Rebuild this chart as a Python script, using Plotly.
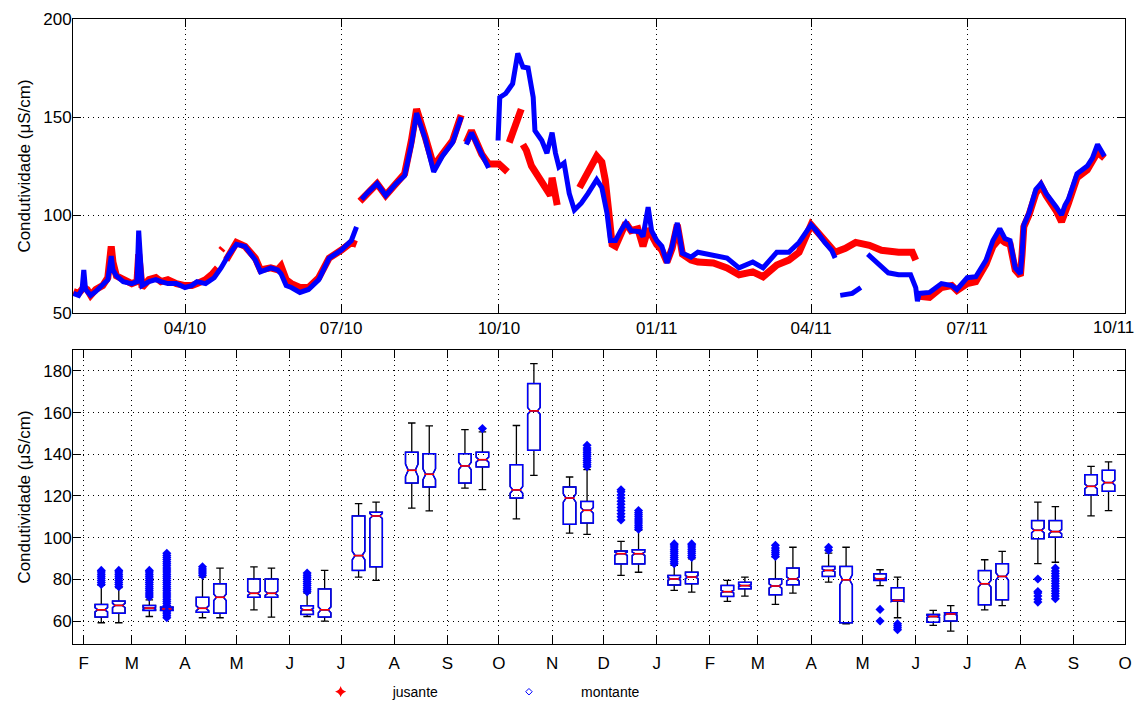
import pandas as pd
import plotly.graph_objects as go

# ---------------- top panel: time series ----------------
jus_dates = ["2010-01-26", "2010-01-29", "2010-02-01", "2010-02-03", "2010-02-05", "2010-02-08",
             "2010-02-12", "2010-02-15", "2010-02-17", "2010-02-18", "2010-02-20", "2010-02-24",
             "2010-03-01", "2010-03-04", "2010-03-05", "2010-03-07", "2010-03-11", "2010-03-15",
             "2010-03-18", "2010-03-22", "2010-03-27", "2010-04-01", "2010-04-05", "2010-04-08",
             "2010-04-13", "2010-04-17", "2010-04-20", "2010-04-21", "2010-04-22", "2010-04-23",
             "2010-04-24", "2010-04-25", "2010-04-28", "2010-05-01", "2010-05-06", "2010-05-12",
             "2010-05-15", "2010-05-21", "2010-05-25", "2010-05-27", "2010-05-30", "2010-06-02",
             "2010-06-07", "2010-06-12", "2010-06-18", "2010-06-24", "2010-07-01", "2010-07-07",
             "2010-07-10", "2010-07-11", "2010-07-12", "2010-07-16", "2010-07-22", "2010-07-27",
             "2010-08-02", "2010-08-07", "2010-08-11", "2010-08-14", "2010-08-19", "2010-08-24",
             "2010-08-29", "2010-09-04", "2010-09-09", "2010-09-10", "2010-09-12", "2010-09-15",
             "2010-09-21", "2010-09-25", "2010-10-01", "2010-10-04", "2010-10-06", "2010-10-06 12:00",
             "2010-10-07", "2010-10-11", "2010-10-14", "2010-10-14 12:00", "2010-10-15", "2010-10-17",
             "2010-10-20", "2010-10-26", "2010-10-29", "2010-10-31", "2010-11-01", "2010-11-03",
             "2010-11-04", "2010-11-05", "2010-11-17", "2010-11-22", "2010-11-27", "2010-11-30",
             "2010-12-02", "2010-12-04", "2010-12-06", "2010-12-08", "2010-12-11", "2010-12-14",
             "2010-12-17", "2010-12-21", "2010-12-24", "2010-12-27", "2011-01-01", "2011-01-04",
             "2011-01-07", "2011-01-10", "2011-01-13", "2011-01-16", "2011-01-21", "2011-01-25",
             "2011-02-03", "2011-02-11", "2011-02-18", "2011-02-26", "2011-03-04", "2011-03-12",
             "2011-03-19", "2011-03-25", "2011-04-01", "2011-04-04", "2011-04-09", "2011-04-15",
             "2011-04-21", "2011-04-27", "2011-05-05", "2011-05-12", "2011-05-22", "2011-05-30",
             "2011-06-01", "2011-06-02", "2011-06-03", "2011-06-09", "2011-06-16", "2011-06-22",
             "2011-06-25", "2011-07-01", "2011-07-06", "2011-07-12", "2011-07-16", "2011-07-20",
             "2011-07-23", "2011-07-26", "2011-07-29", "2011-08-01", "2011-08-02", "2011-08-03",
             "2011-08-06", "2011-08-10", "2011-08-13", "2011-08-16", "2011-08-22", "2011-08-25",
             "2011-08-29", "2011-09-03", "2011-09-09", "2011-09-12", "2011-09-15", "2011-09-19"]
jus_values = [61, 60, 63, 62, 59, 62,
              64, 68, 84, 76, 69, 67,
              65, 66, 80, 63, 67, 68,
              66, 67, 65, 64, 64, 65,
              67, 70, 73, None, 82, 83,
              None, 77, 81, 86, 84, 78,
              72, 73, 72, 74, 67, 65,
              63, 63, 68, 78, 82, 86,
              85, None, 107, 111, 116, 110,
              116, 121, 138, 154, 140, 125,
              131, 138, 151, None, 137, 143,
              131, 126, 126, 124, 122, None,
              137, 147, 154, None, 136, 133,
              125, 116, 112, 110, 119, 110,
              105, None, 114, 122, 130, 127,
              118, 102, 85, 84, 91, 96,
              92, 93, 84, 93, 85, 82,
              76, 83, 95, 80, 77, 76,
              75.5, 73, 69.5, 71, 68.5, 74.5,
              77, 81, 95, 92, 86, 81,
              83, 86, 84.5, 82, 81, 81,
              77, None, 58.5, 58, 63, 64,
              61.5, 65, 66, 75, 84, 88,
              86, 85, 72, 69, 80, 94,
              100, 111, 115, 110, 102, 96.5,
              106, 119, 123, 127, 132, 129]

mon_dates = ["2010-01-26", "2010-01-29", "2010-01-31", "2010-02-01", "2010-02-02", "2010-02-05",
             "2010-02-08", "2010-02-12", "2010-02-15", "2010-02-17", "2010-02-18", "2010-02-20",
             "2010-02-24", "2010-03-01", "2010-03-04", "2010-03-05", "2010-03-06", "2010-03-07",
             "2010-03-11", "2010-03-15", "2010-03-18", "2010-03-22", "2010-03-27", "2010-04-01",
             "2010-04-05", "2010-04-08", "2010-04-13", "2010-04-18", "2010-04-22", "2010-04-26",
             "2010-05-01", "2010-05-06", "2010-05-12", "2010-05-15", "2010-05-21", "2010-05-25",
             "2010-05-27", "2010-05-30", "2010-06-02", "2010-06-07", "2010-06-12", "2010-06-18",
             "2010-06-24", "2010-07-01", "2010-07-07", "2010-07-10", "2010-07-11", "2010-07-13",
             "2010-07-16", "2010-07-22", "2010-07-27", "2010-08-02", "2010-08-07", "2010-08-11",
             "2010-08-14", "2010-08-19", "2010-08-24", "2010-08-29", "2010-09-04", "2010-09-09",
             "2010-09-10", "2010-09-12", "2010-09-15", "2010-09-21", "2010-09-25", "2010-09-27",
             "2010-09-30 12:00", "2010-10-01", "2010-10-01 12:00", "2010-10-05", "2010-10-09",
             "2010-10-12", "2010-10-15", "2010-10-18", "2010-10-21", "2010-10-22", "2010-10-26",
             "2010-10-29", "2010-11-01", "2010-11-03", "2010-11-05", "2010-11-08", "2010-11-11",
             "2010-11-14", "2010-11-18", "2010-11-22", "2010-11-27", "2010-11-30", "2010-12-03",
             "2010-12-05", "2010-12-08", "2010-12-11", "2010-12-14", "2010-12-17", "2010-12-22",
             "2010-12-24", "2010-12-27", "2010-12-29", "2011-01-01", "2011-01-04", "2011-01-07",
             "2011-01-10", "2011-01-13", "2011-01-16", "2011-01-21", "2011-01-25", "2011-02-03",
             "2011-02-11", "2011-02-18", "2011-02-26", "2011-03-04", "2011-03-12", "2011-03-19",
             "2011-03-25", "2011-04-01", "2011-04-04", "2011-04-09", "2011-04-13", "2011-04-15",
             "2011-04-16", "2011-04-18", "2011-04-25", "2011-04-30", "2011-05-01", "2011-05-04",
             "2011-05-10", "2011-05-16", "2011-05-22", "2011-05-29", "2011-06-01", "2011-06-02",
             "2011-06-03", "2011-06-09", "2011-06-16", "2011-06-22", "2011-06-25", "2011-07-01",
             "2011-07-06", "2011-07-12", "2011-07-16", "2011-07-20", "2011-07-23", "2011-07-26",
             "2011-07-29", "2011-08-01", "2011-08-02", "2011-08-03", "2011-08-06", "2011-08-10",
             "2011-08-13", "2011-08-16", "2011-08-22", "2011-08-25", "2011-08-27", "2011-08-29",
             "2011-09-03", "2011-09-09", "2011-09-12", "2011-09-15", "2011-09-19"]
mon_values = [60, 59, 62, 72, 62, 59,
              61, 64, 67, 79, 72, 69,
              66, 65, 66, 92, 75, 64,
              66, 67, 66, 65, 65, 63,
              64, 66, 65, 68, 73, 79,
              85, 84, 77, 71, 73, 72,
              70, 64, 63, 60.5, 62, 67,
              78, 82, 87, 94, None, 108,
              111, 116, 110, 116, 120, 136,
              152, 139, 122, 130, 137, 150,
              None, 136, 142, 131, 124, None,
              138, 150, 160, 162, 167,
              182.5, 175.5, 175, 160, 143, 138,
              131.5, 142, 131.5, 124.5, 126.5, 111,
              102.5, 106, 111, 118, 114, 101,
              87, 87, 92, 96, 92, 91.5,
              89, 104, 92, 87, 84, 75.5,
              84, 96, 80.5, 78.5, 81, 79.5,
              78, 73, 76, 73, 81, 81,
              86, 95, 92, 86, 82, 78,
              None, 59, 60, 63, None, 80,
              75.5, 70.5, 69.5, 69.5, 63, 56,
              60, 60.5, 65, 64, 62, 68,
              68.5, 77, 87, 93, 88, 87,
              73, 70, 80, 95, 101, 113,
              116, 111, 104, 100, 105, 108,
              121, 125, 129, 136, 130]

top_tick_dates = ["2010-04-01", "2010-07-01", "2010-10-01", "2011-01-01",
                  "2011-04-01", "2011-07-01", "2011-10-01"]
top_tick_labels = ["04/10", "07/10", "10/10", "01/11", "04/11", "07/11", "10/11"]

# ---------------- bottom panel: monthly box plots ----------------
month_ticks = ["2010-02-01", "2010-03-01", "2010-04-01", "2010-05-01", "2010-06-01", "2010-07-01",
               "2010-08-01", "2010-09-01", "2010-10-01", "2010-11-01", "2010-12-01", "2011-01-01",
               "2011-02-01", "2011-03-01", "2011-04-01", "2011-05-01", "2011-06-01", "2011-07-01",
               "2011-08-01", "2011-09-01", "2011-10-01"]
month_letters = ["F", "M", "A", "M", "J", "J", "A", "S", "O", "N", "D", "J",
                 "F", "M", "A", "M", "J", "J", "A", "S", "O"]
box_months = month_ticks[:-1]

jus_hi = [77.1, 70.2, 81.1, 86.0, 73.4, 116.3, 155.0, 151.8, 153.8, 129.1,
          98.2, 86.7, 79.5, 90.7, 92.6, 84.6, 65.1, 89.4, 117.0, 134.2]
jus_q3 = [68.0, 67.5, 71.4, 80.2, 67.4, 110.4, 141.0, 140.3, 135.0, 124.3,
          93.6, 81.9, 77.1, 80.2, 86.2, 82.7, 63.2, 84.2, 108.2, 130.2]
jus_med = [65.4, 66.2, 66.1, 73.3, 65.4, 91.4, 132.3, 134.4, 122.9, 119.0,
           92.3, 80.2, 74.1, 76.8, 84.3, 80.3, 62.2, 77.9, 103.5, 124.6]
jus_q1 = [61.9, 65.1, 64.2, 71.4, 63.2, 84.3, 126.2, 126.2, 119.0, 106.4,
          87.4, 77.3, 71.8, 72.6, 81.4, 79.5, 59.4, 67.8, 99.5, 120.5]
jus_lo = [59.2, 62.2, 61.6, 65.4, 62.2, 81.1, 114.2, 123.8, 109.0, 102.2,
          81.9, 74.7, 69.4, 68.0, 78.7, 77.0, 57.9, 65.4, 87.5, 110.4]
jus_notch = [1.0, 0.4, 1.2, 1.0, 0.6, 2.0, 3.0, 1.8, 1.6, 2.0,
             0.8, 0.6, 0.6, 1.0, 0.6, 0.4, 0.5, 1.6, 1.2, 1.2]

mon_hi = [76.0, 67.0, 85.4, 85.4, 84.3, 117.0, 153.6, 150.7, 183.5, 132.6,
          103.5, 89.8, 81.1, 95.4, 95.4, 81.1, 67.4, 93.4, 114.9, 136.3]
mon_q3 = [69.6, 66.7, 77.9, 80.2, 75.4, 112.2, 140.3, 141.0, 173.9, 117.4,
          94.2, 83.4, 78.6, 85.4, 86.2, 76.0, 64.0, 87.5, 108.2, 132.3]
mon_med = [67.5, 65.8, 71.4, 73.3, 65.4, 110.4, 130.4, 137.4, 160.8, 113.1,
           92.3, 81.1, 77.0, 80.2, 79.8, 69.9, 63.4, 81.4, 102.9, 126.4]
mon_q1 = [63.8, 65.1, 63.8, 71.4, 61.9, 86.0, 124.3, 133.9, 141.9, 107.0,
          87.4, 77.9, 75.5, 77.4, 59.2, 69.6, 60.0, 70.2, 100.2, 122.2]
mon_lo = [59.2, 64.8, 61.6, 61.9, 60.0, 79.5, 112.8, 123.0, 129.9, 101.6,
          83.4, 73.9, 72.0, 73.4, 58.7, 61.6, 55.2, 67.4, 88.2, 113.0]
mon_notch = [1.0, 0.4, 1.6, 1.0, 1.4, 1.2, 2.6, 1.2, 1.6, 1.4,
             0.8, 0.7, 0.4, 1.0, 2.5, 0.5, 0.5, 1.8, 1.0, 1.2]

jus_out = [
    [77.5, 78.5, 79.5, 80.5, 81.5, 82.5, 83.5, 84.3],
    [71.5, 72.5, 73.5, 74.5, 75.5, 76.5, 77.5, 78.5, 79.5, 80.5, 81.5, 82.5, 83.5, 84.3],
    [82.0, 83.0, 84.0, 85.0, 86.0],
    [],
    [74.0, 75.0, 76.0, 77.0, 78.0, 79.0, 80.0, 81.0, 82.0, 83.0],
    [], [], [], [], [],
    [108.5, 110.0, 111.5, 113.0, 114.5, 116.0, 117.5, 119.0, 120.5, 122.0, 123.0],
    [87.5, 88.5, 89.5, 90.5, 91.5, 92.5, 93.5, 94.5, 95.5, 96.5, 97.0],
    [],
    [91.0, 92.0, 93.0, 94.0, 95.0, 96.3],
    [94.0, 95.4],
    [60.0, 65.6],
    [], [],
    [69.1, 70.5, 72.0, 73.5, 74.2, 80.2],
    [],
]
mon_out = [
    [76.5, 77.5, 78.5, 79.5, 80.5, 81.5, 82.5, 83.5, 84.3],
    [61.6, 62.5, 63.5, 64.3, 67.5, 68.5, 69.5, 70.5, 71.5, 72.5, 73.5, 74.5, 75.5, 76.5,
     77.5, 78.5, 79.5, 80.5, 81.5, 82.5, 83.5, 84.5, 85.5, 86.5, 87.5, 88.5, 89.5, 90.5,
     91.5, 92.5],
    [], [], [], [], [],
    [152.3],
    [],
    [134.0, 135.0, 136.0, 137.0, 138.0, 139.0, 140.0, 141.0, 142.0, 143.0, 144.3],
    [104.0, 105.0, 106.0, 107.0, 108.0, 109.0, 110.0, 111.0, 112.0, 113.0],
    [90.5, 91.5, 92.5, 93.5, 94.5, 95.5, 96.5, 97.0],
    [], [], [],
    [55.8, 56.8, 57.8, 58.7],
    [], [],
    [70.7, 72.0, 73.2, 74.4, 75.6, 76.8, 78.0, 79.2, 80.4, 81.6, 82.8, 84.0, 85.4],
    [],
]

# ---------------- helpers / style ----------------
T0 = pd.Timestamp("2010-01-01")


def day_num(s):
    return (pd.Timestamp(s) - T0).total_seconds() / 86400.0


X_START = "2010-01-25 17:00"
X_END = "2011-10-01"
BOX_OFFSET_J = 10.2
BOX_OFFSET_M = 20.4
BOX_WIDTH = 7.3
NOTCH_W = 0.22
RED = "#ff0000"
BLUE = "#0000ff"
FONT_SIZE = 17

xr = [day_num(X_START), day_num(X_END)]
xj = [day_num(m) + BOX_OFFSET_J for m in box_months]
xm = [day_num(m) + BOX_OFFSET_M for m in box_months]

fig = go.Figure()

# top series
fig.add_trace(go.Scatter(x=[day_num(d) for d in jus_dates], y=jus_values, mode="lines",
                         line=dict(color=RED, width=7), connectgaps=False, showlegend=False,
                         hoverinfo="skip", xaxis="x", yaxis="y"))
fig.add_trace(go.Scatter(x=[day_num(d) for d in mon_dates], y=mon_values, mode="lines",
                         line=dict(color=BLUE, width=5), connectgaps=False, showlegend=False,
                         hoverinfo="skip", xaxis="x", yaxis="y"))

# box plots: black whiskers layer, then blue box layer
for pos, lo, q1, med, q3, hi, notch in [(xj, jus_lo, jus_q1, jus_med, jus_q3, jus_hi, jus_notch),
                                        (xm, mon_lo, mon_q1, mon_med, mon_q3, mon_hi, mon_notch)]:
    fig.add_trace(go.Box(x=pos, q1=q1, median=med, q3=q3, lowerfence=lo, upperfence=hi,
                         notched=True, notchspan=notch, notchwidth=NOTCH_W, width=BOX_WIDTH,
                         whiskerwidth=0.6, line=dict(color="black", width=1.3),
                         fillcolor="rgba(0,0,0,0)", boxpoints=False, showlegend=False,
                         hoverinfo="skip", xaxis="x2", yaxis="y2"))
for pos, q1, med, q3, notch in [(xj, jus_q1, jus_med, jus_q3, jus_notch),
                                (xm, mon_q1, mon_med, mon_q3, mon_notch)]:
    fig.add_trace(go.Box(x=pos, q1=q1, median=med, q3=q3, lowerfence=q1, upperfence=q3,
                         notched=True, notchspan=notch, notchwidth=NOTCH_W, width=BOX_WIDTH,
                         whiskerwidth=0, line=dict(color=BLUE, width=1.5),
                         fillcolor="rgba(0,0,0,0)", boxpoints=False, showlegend=False,
                         hoverinfo="skip", xaxis="x2", yaxis="y2"))

# red median lines
hw = BOX_WIDTH / 2 * (1 - NOTCH_W)
mx, my = [], []
for pos, med in [(xj, jus_med), (xm, mon_med)]:
    for p, m in zip(pos, med):
        mx += [p - hw, p + hw, None]
        my += [m, m, None]
fig.add_trace(go.Scatter(x=mx, y=my, mode="lines", line=dict(color=RED, width=1.6),
                         showlegend=False, hoverinfo="skip", xaxis="x2", yaxis="y2"))

# outliers
ox, oy = [], []
for pos, outs in [(xj, jus_out), (xm, mon_out)]:
    for p, vals in zip(pos, outs):
        ox += [p] * len(vals)
        oy += vals
fig.add_trace(go.Scatter(x=ox, y=oy, mode="markers",
                         marker=dict(symbol="diamond", size=7, color=BLUE),
                         showlegend=False, hoverinfo="skip", xaxis="x2", yaxis="y2"))

# legend entries
fig.add_trace(go.Scatter(x=[None], y=[None], mode="markers", name="jusante",
                         marker=dict(symbol="star-diamond", size=8, color=RED),
                         legend="legend", xaxis="x", yaxis="y"))
fig.add_trace(go.Scatter(x=[None], y=[None], mode="markers", name="montante",
                         marker=dict(symbol="diamond-open", size=5, color=BLUE,
                                     line=dict(width=1, color=BLUE)),
                         legend="legend2", xaxis="x", yaxis="y"))

axis_style = dict(showline=True, linecolor="black", linewidth=1, mirror="ticks",
                  ticks="inside", ticklen=8, tickcolor="black", tickwidth=1,
                  showgrid=True, gridcolor="black", gridwidth=1, griddash="1px,4px",
                  zeroline=False, tickfont=dict(size=FONT_SIZE))

# last top tick label sits at the right edge; draw it as an annotation nudged inward
top_ticktext = top_tick_labels[:-1] + [""]

# the page body has an 8px margin, so the figure is 1136x696 and offsets are reduced by 8px
fig.update_layout(
    width=1136, height=696,
    margin=dict(l=65, r=19, t=11, b=60, autoexpand=False),
    paper_bgcolor="white", plot_bgcolor="white",
    font=dict(family="Liberation Sans, Arial, sans-serif", size=FONT_SIZE, color="black"),
    boxmode="overlay",
    xaxis=dict(domain=[0, 1], anchor="y", range=xr, tickmode="array",
               tickvals=[day_num(d) for d in top_tick_dates], ticktext=top_ticktext,
               **axis_style),
    yaxis=dict(domain=[0.5296, 1], anchor="x", range=[50, 200], tickmode="array",
               tickvals=[50, 100, 150, 200], ticklabelstandoff=-3,
               title=dict(text="Condutividade (μS/cm)", font=dict(size=FONT_SIZE), standoff=8),
               **axis_style),
    xaxis2=dict(domain=[0, 1], anchor="y2", range=xr, tickmode="array",
                tickvals=[day_num(d) for d in month_ticks], ticktext=month_letters,
                ticklabelstandoff=4, **axis_style),
    yaxis2=dict(domain=[0, 0.4704], anchor="x2", range=[49, 190], tickmode="array",
                tickvals=[60, 80, 100, 120, 140, 160, 180], ticklabelstandoff=-3,
                title=dict(text="Condutividade (μS/cm)", font=dict(size=FONT_SIZE), standoff=8),
                **axis_style),
    legend=dict(orientation="h", x=0.205, y=-0.077, xanchor="left", yanchor="middle",
                font=dict(size=14), itemwidth=94, bgcolor="rgba(0,0,0,0)"),
    legend2=dict(orientation="h", x=0.384, y=-0.077, xanchor="left", yanchor="middle",
                 font=dict(size=14), itemwidth=94, bgcolor="rgba(0,0,0,0)"),
    annotations=[dict(text=top_tick_labels[-1], x=day_num(top_tick_dates[-1]), xref="x",
                      y=0.5056, yref="paper", xanchor="center", yanchor="middle",
                      xshift=-12, showarrow=False, font=dict(size=FONT_SIZE))],
)

fig.write_html("out.html")
